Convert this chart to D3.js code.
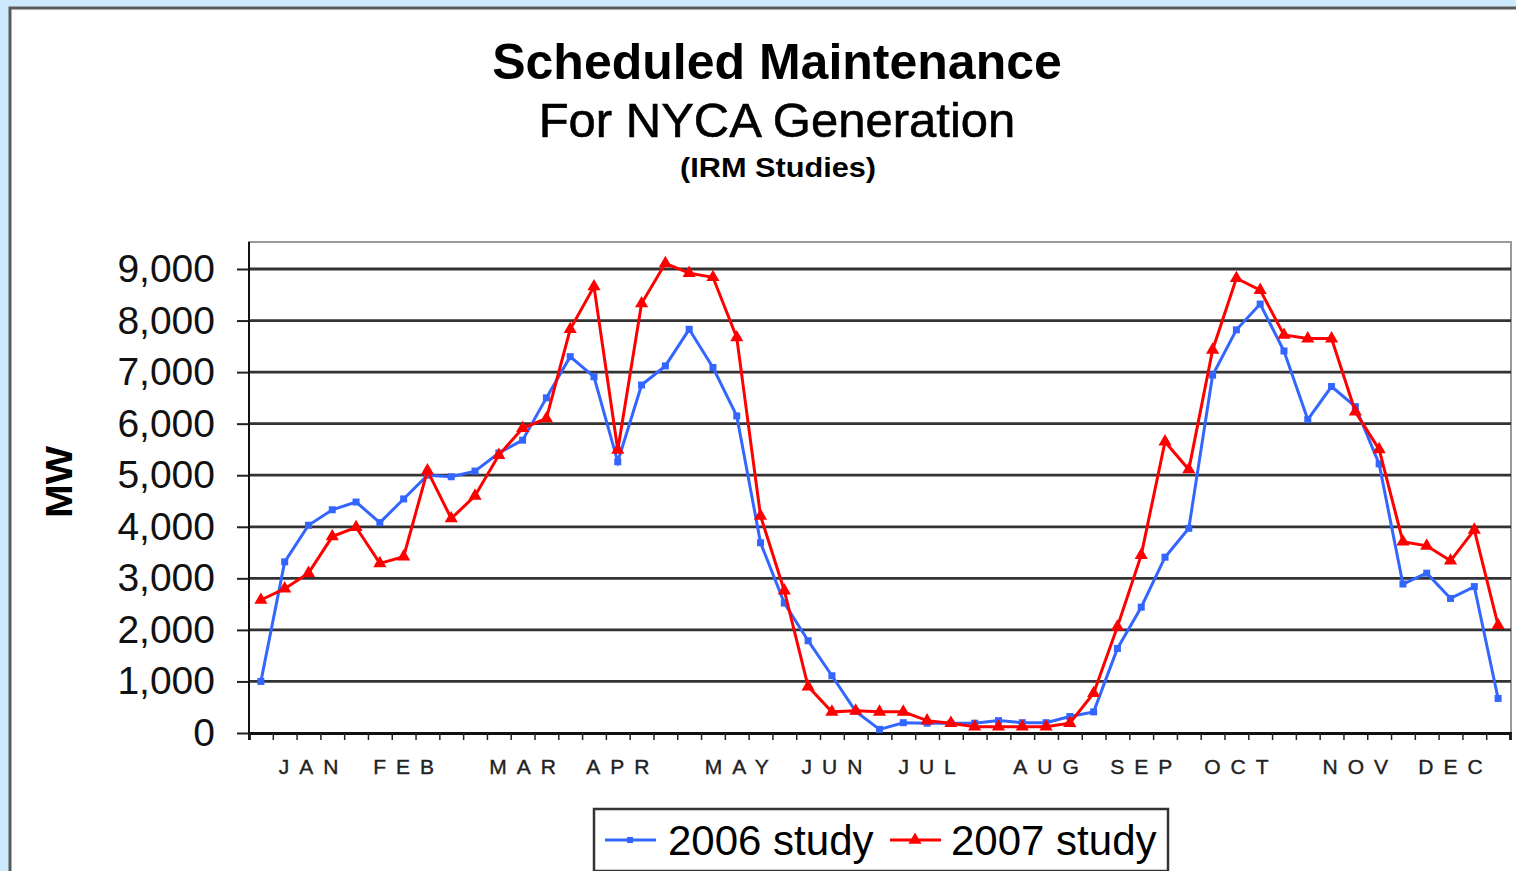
<!DOCTYPE html>
<html lang="en">
<head>
    <meta charset="UTF-8">
    <title>Scheduled Maintenance For NYCA Generation</title>
    <script src="https://d3js.org/d3.v7.min.js"></script>
    <style>
        body { margin: 0; background: #cde9fd; }
        svg { display: block; font-family: Arial, "Liberation Sans", sans-serif; }
    </style>
</head>
<body>
    <svg></svg>

    <script>
// weekly values (53 weeks)
const weeks = d3.range(53);
const study2006 = [1000,3320,4030,4330,4480,4080,4540,5000,4970,5080,
                   5430,5680,6500,7300,6910,5260,6750,7120,7830,7090,
                   6150,3690,2520,1790,1110,420,70,200,190,190,
                   190,240,200,200,320,410,1640,2440,3410,3970,
                   6940,7820,8320,7410,6080,6720,6330,5220,2890,3100,
                   2610,2840,670];
const study2007 = [2580,2800,3100,3810,3990,3290,3420,5090,4160,4600,
                   5390,5910,6100,7830,8660,5490,8330,9110,8920,8840,
                   7670,4210,2760,900,410,430,410,410,240,190,
                   120,120,120,120,190,770,2060,3450,5650,5110,
                   7430,8820,8590,7720,7650,7650,6230,5500,3710,3630,
                   3340,3940,2090];
const months = ["JAN","FEB","MAR","APR","MAY","JUN","JUL","AUG","SEP","OCT","NOV","DEC"];
const monthWeek = [2,6,11,15,20,24,28,33,37,41,46,50];
const yTicks = d3.range(0, 9001, 1000);

const width = 1516, height = 871;
const svg = d3.select("svg").attr("width", width).attr("height", height);

// white panel
svg.append("rect").attr("x", 10).attr("y", 8).attr("width", width).attr("height", height)
    .attr("fill", "#fff").attr("stroke", "#5a5a5a").attr("stroke-width", 3);

// titles
svg.append("text").attr("x", 777).attr("y", 79).attr("text-anchor", "middle")
    .attr("font-size", 50).attr("font-weight", "bold").text("Scheduled Maintenance");
svg.append("text").attr("x", 777).attr("y", 137).attr("text-anchor", "middle")
    .attr("font-size", 49).attr("stroke", "#000").attr("stroke-width", 0.6)
    .text("For NYCA Generation");
svg.append("text").attr("x", 778).attr("y", 177).attr("text-anchor", "middle")
    .attr("font-size", 27).attr("font-weight", "bold")
    .attr("textLength", 196).attr("lengthAdjust", "spacingAndGlyphs").text("(IRM Studies)");

const plotLeft = 249, plotRight = 1510, plotTop = 242, plotBottom = 733;

const x = d3.scaleLinear().domain([0, 53]).range([plotLeft, plotRight]);
const y = d3.scaleLinear().domain([0, 9000]).range([plotBottom, 269]);

// plot frame
svg.append("rect").attr("x", plotLeft).attr("y", plotTop)
    .attr("width", plotRight - plotLeft + 1).attr("height", plotBottom - plotTop)
    .attr("fill", "#fff").attr("stroke", "#9a9a9a").attr("stroke-width", 2);

// gridlines
svg.append("g").selectAll("line").data(yTicks.filter(d => d > 0)).join("line")
    .attr("x1", plotLeft).attr("x2", plotRight + 1)
    .attr("y1", d => y(d)).attr("y2", d => y(d))
    .attr("stroke", "#333").attr("stroke-width", 2.8);

// y axis
const yAxis = svg.append("g").attr("transform", `translate(${plotLeft},0)`)
    .call(d3.axisLeft(y).tickValues(yTicks).tickFormat(d3.format(",")).tickSize(12).tickPadding(22));
yAxis.select(".domain").remove();
yAxis.selectAll(".tick line").attr("stroke", "#222").attr("stroke-width", 2);
yAxis.selectAll(".tick text").attr("font-size", 39).attr("fill", "#111")
    .attr("font-family", "Arial, 'Liberation Sans', sans-serif");
svg.append("line").attr("x1", plotLeft).attr("x2", plotLeft).attr("y1", plotTop).attr("y2", plotBottom + 7)
    .attr("stroke", "#111").attr("stroke-width", 2);

// x axis
const xAxis = svg.append("g").attr("transform", `translate(0,${plotBottom})`)
    .call(d3.axisBottom(x).tickValues(d3.range(54)).tickFormat("").tickSize(7));
xAxis.select(".domain").attr("stroke", "#111").attr("stroke-width", 2.8);
xAxis.selectAll(".tick line").attr("stroke", "#222").attr("stroke-width", 1.5);

svg.append("g").selectAll("text").data(months).join("text")
    .attr("x", (d, i) => x(monthWeek[i] + 0.5) + 5)
    .attr("y", 774)
    .attr("text-anchor", "middle")
    .attr("font-size", 21).attr("letter-spacing", 10).attr("fill", "#222")
    .attr("stroke", "#222").attr("stroke-width", 0.4)
    .text(d => d);

// MW label
svg.append("text").attr("transform", "translate(72,482) rotate(-90)")
    .attr("text-anchor", "middle").attr("font-size", 37).attr("font-weight", "bold")
    .attr("textLength", 72).attr("lengthAdjust", "spacingAndGlyphs").text("MW");

// lines
const line = d3.line().x((d, i) => x(i + 0.5)).y(d => y(d));
const tri = d3.symbol().type(d3.symbolTriangle).size(75);

svg.append("path").datum(study2006).attr("d", line)
    .attr("fill", "none").attr("stroke", "#3366ff").attr("stroke-width", 3);
svg.append("g").selectAll("rect").data(study2006).join("rect")
    .attr("x", (d, i) => x(i + 0.5) - 3.5).attr("y", d => y(d) - 3.5)
    .attr("width", 7).attr("height", 7).attr("fill", "#3366ff");

svg.append("path").datum(study2007).attr("d", line)
    .attr("fill", "none").attr("stroke", "#ff0000").attr("stroke-width", 3);
svg.append("g").selectAll("path").data(study2007).join("path")
    .attr("d", tri).attr("transform", (d, i) => `translate(${x(i + 0.5)},${y(d)})`)
    .attr("fill", "#ff0000");

// legend
const legend = svg.append("g");
legend.append("rect").attr("x", 594).attr("y", 809).attr("width", 574).attr("height", 62)
    .attr("fill", "#fff").attr("stroke", "#333").attr("stroke-width", 2.5);
legend.append("line").attr("x1", 605).attr("x2", 656).attr("y1", 840).attr("y2", 840)
    .attr("stroke", "#3366ff").attr("stroke-width", 3);
legend.append("rect").attr("x", 627).attr("y", 837).attr("width", 6).attr("height", 6).attr("fill", "#3366ff");
legend.append("text").attr("x", 668).attr("y", 855).attr("font-size", 42).text("2006 study");
legend.append("line").attr("x1", 890).attr("x2", 941).attr("y1", 840).attr("y2", 840)
    .attr("stroke", "#ff0000").attr("stroke-width", 3);
legend.append("path").attr("d", tri).attr("transform", "translate(915,840)").attr("fill", "#ff0000");
legend.append("text").attr("x", 951).attr("y", 855).attr("font-size", 42).text("2007 study");
    </script>
</body>
</html>
